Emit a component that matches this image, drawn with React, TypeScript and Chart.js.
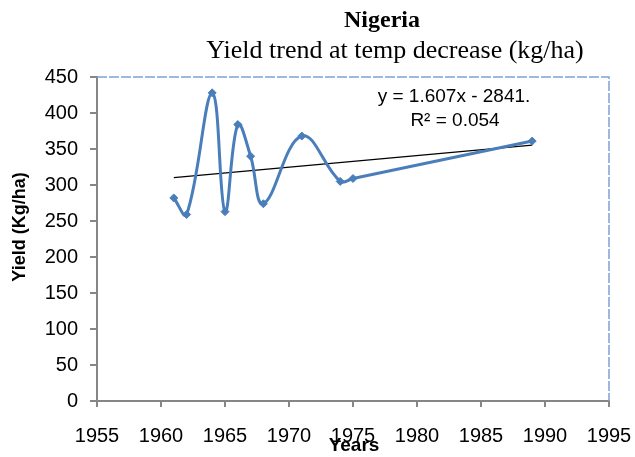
import React, { useEffect, useRef } from "react";
import { Chart, registerables } from "chart.js";

Chart.register(...registerables);

// ---- data ----
const years = [1961, 1962, 1964, 1965, 1966, 1967, 1968, 1971, 1974, 1975, 1989];
const yields = [282, 259, 428, 263, 384, 340, 274, 368, 305, 309, 361];
const trendSlope = 1.607;
const trendIntercept = -2841;
const trendYears = [1961, 1989];
const xMin = 1955;
const xMax = 1995;
const xStep = 5;
const yMin = 0;
const yMax = 450;
const yStep = 50;
const titleText = "Nigeria";
const subtitleText = "Yield trend at temp decrease (kg/ha)";
const equationLines = ["y = 1.607x - 2841.", "R\u00B2 = 0.054"];
const xAxisTitle = "Years";
const yAxisTitle = "Yield (Kg/ha)";

const BLUE = "#4a7ebb";
const AXIS = "#868686";
const SANS = "'Liberation Sans', Arial, sans-serif";
const SERIF = "'Liberation Serif', 'Times New Roman', serif";

const decorPlugin = {
  id: "decor",
  beforeDatasetsDraw(chart: any) {
    const { ctx, chartArea } = chart;
    ctx.save();
    ctx.strokeStyle = "#7ea3d6";
    ctx.lineWidth = 1.5;
    ctx.setLineDash([10, 2]);
    ctx.beginPath();
    ctx.moveTo(chartArea.left, chartArea.top);
    ctx.lineTo(chartArea.right, chartArea.top);
    ctx.lineTo(chartArea.right, chartArea.bottom);
    ctx.stroke();
    ctx.restore();
  },
  afterDraw(chart: any) {
    const { ctx } = chart;
    ctx.save();
    ctx.fillStyle = "#000";
    ctx.textAlign = "center";
    ctx.textBaseline = "middle";
    ctx.font = `bold 24px ${SERIF}`;
    ctx.fillText(titleText, 382, 21);
    ctx.font = `26px ${SERIF}`;
    ctx.fillText(subtitleText, 395, 51);

    ctx.font = `19px ${SANS}`;
    ctx.fillText(equationLines[0], 454, 97);
    ctx.fillText(equationLines[1], 455, 121);

    ctx.font = `bold 19px ${SANS}`;
    ctx.fillText(xAxisTitle, 354, 446);

    ctx.translate(20, 227);
    ctx.rotate(-Math.PI / 2);
    ctx.font = `bold 18px ${SANS}`;
    ctx.fillText(yAxisTitle, 0, 0);
    ctx.restore();
  },
};

export default function App() {
  const ref = useRef<HTMLCanvasElement | null>(null);

  useEffect(() => {
    if (!ref.current) return;
    const chart = new Chart(ref.current, {
      type: "line",
      data: {
        datasets: [
          {
            label: "Yield",
            data: years.map((x, i) => ({ x, y: yields[i] })),
            borderColor: BLUE,
            backgroundColor: BLUE,
            borderWidth: 3,
            tension: 0.4,
            pointStyle: "rectRot",
            pointRadius: 4,
            pointBorderWidth: 1,
            fill: false,
          },
          {
            label: "Trend",
            data: trendYears.map((x) => ({ x, y: trendSlope * x + trendIntercept })),
            borderColor: "#000",
            borderWidth: 1.2,
            pointRadius: 0,
            tension: 0,
            fill: false,
          },
        ],
      },
      options: {
        responsive: false,
        animation: false,
        layout: { padding: { top: 77, right: 26, left: 0, bottom: 0 } },
        plugins: {
          legend: { display: false },
          title: { display: false },
          tooltip: { enabled: false },
        },
        scales: {
          x: {
            type: "linear",
            min: xMin,
            max: xMax,
            afterFit: (s: any) => {
              s.height = 56;
              s.paddingLeft = 0;
              s.paddingRight = 0;
            },
            ticks: {
              stepSize: xStep,
              color: "#000",
              font: { family: SANS, size: 20 },
              padding: 17,
              maxRotation: 0,
              callback: (v: any) => String(v),
            },
            grid: {
              drawOnChartArea: false,
              drawTicks: true,
              tickLength: 6,
              color: AXIS,
              lineWidth: 2,
            },
            border: { color: AXIS, width: 2 },
          },
          y: {
            min: yMin,
            max: yMax,
            afterFit: (s: any) => {
              s.width = 97;
              s.paddingTop = 0;
              s.paddingBottom = 0;
            },
            ticks: {
              stepSize: yStep,
              color: "#000",
              font: { family: SANS, size: 20 },
              padding: 12,
            },
            grid: {
              drawOnChartArea: false,
              drawTicks: true,
              tickLength: 7,
              color: AXIS,
              lineWidth: 2,
            },
            border: { color: AXIS, width: 2 },
          },
        },
      },
      plugins: [decorPlugin],
    });
    return () => chart.destroy();
  }, []);

  return (
    <div style={{ position: "fixed", left: 0, top: 0, width: 635, height: 457, background: "#fff" }}>
      <canvas ref={ref} width={635} height={457} />
    </div>
  );
}
